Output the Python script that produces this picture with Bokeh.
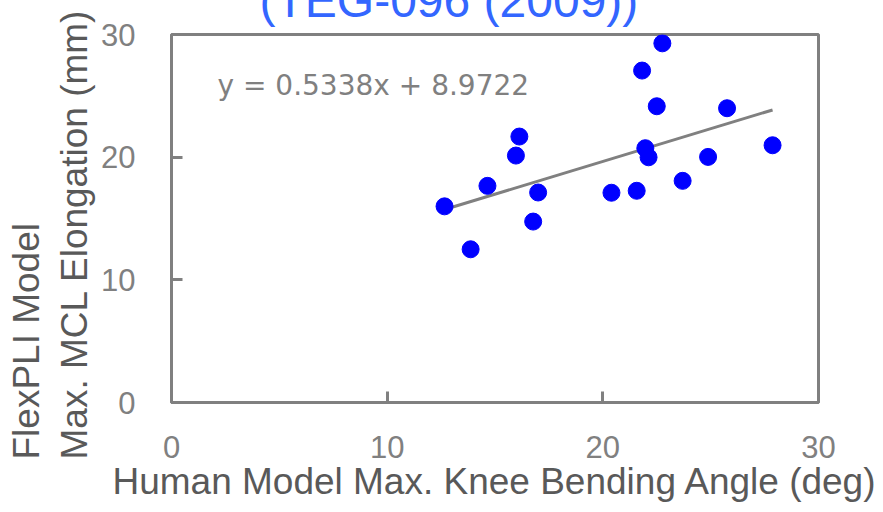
from bokeh.plotting import figure
from bokeh.models import Label, SingleIntervalTicker, Range1d, ColumnDataSource, Title
from bokeh.embed import file_html
from bokeh.resources import INLINE

# Data
knee_angle = [12.66, 13.87, 14.65, 15.97, 16.13, 16.77, 17.0, 20.4, 21.57,
              21.82, 21.97, 22.12, 22.5, 22.76, 23.7, 24.88, 25.76, 27.87]
mcl_elong = [15.99, 12.49, 17.66, 20.13, 21.68, 14.75, 17.12, 17.1, 17.26,
             27.06, 20.73, 19.99, 24.15, 29.28, 18.07, 20.02, 23.99, 20.97]
slope = 0.5338
intercept = 8.9722
equation_text = "y = 0.5338x + 8.9722"
title_text = "(TEG-096 (2009))"
x_label = "Human Model Max. Knee Bending Angle (deg)"
y_label_lines = ["FlexPLI Model", "Max. MCL Elongation (mm)"]

GRAY = "#808080"
DARK = "#595959"
FONT = "Liberation Sans"
SHIFT = 50  # page is scrolled up so the title is cut at the top, as in the reference

p = figure(width=883, height=512 + SHIFT, output_backend="svg", toolbar_location=None,
           x_range=Range1d(0, 30), y_range=Range1d(0, 30),
           min_border_left=171, min_border_right=65,
           min_border_top=34 + SHIFT, min_border_bottom=110)
p.styles = {"margin-top": f"-{SHIFT}px"}
p.grid.visible = False
p.outline_line_color = GRAY
p.outline_line_width = 3
p.background_fill_color = "white"
p.border_fill_color = "white"

for ax in (p.xaxis[0], p.yaxis[0]):
    ax.ticker = SingleIntervalTicker(interval=10, num_minor_ticks=0)
    ax.axis_line_color = GRAY
    ax.axis_line_width = 3
    ax.major_tick_line_color = GRAY
    ax.major_tick_line_width = 3
    ax.major_tick_in = 11
    ax.major_tick_out = 0
    ax.minor_tick_line_color = None
    ax.major_label_text_color = GRAY
    ax.major_label_text_font = FONT
    ax.major_label_text_font_size = "31px"

p.xaxis.major_label_standoff = 33
p.yaxis.major_label_standoff = 36
p.xaxis.axis_label = x_label
p.xaxis.axis_label_text_font = FONT
p.xaxis.axis_label_text_font_size = "37px"
p.xaxis.axis_label_text_font_style = "normal"
p.xaxis.axis_label_text_color = DARK
p.xaxis.axis_label_standoff = 0

# trend line
tx = [min(knee_angle), max(knee_angle)]
ty = [slope * v + intercept for v in tx]
p.line(tx, ty, line_color=GRAY, line_width=3)

src = ColumnDataSource(dict(x=knee_angle, y=mcl_elong))
p.scatter("x", "y", source=src, size=17, fill_color="#0000FF", line_color="#0000FF")

p.add_layout(Label(x=46, y=317, x_units="screen", y_units="screen", text=equation_text,
                   text_font="DejaVu Sans", text_font_size="28px", text_color=GRAY,
                   text_align="left", text_baseline="alphabetic"))

p.add_layout(Title(text=title_text, align="left", offset=88, standoff=15,
                   text_font=FONT, text_font_size="48px", text_font_style="normal",
                   text_color="#3366FF"), "above")

p.add_layout(Title(text=y_label_lines[1], align="left", offset=-57, standoff=8,
                   text_font=FONT, text_font_size="37px", text_font_style="normal",
                   text_color=DARK), "left")
p.add_layout(Title(text=y_label_lines[0], align="left", offset=-57, standoff=1,
                   text_font=FONT, text_font_size="37px", text_font_style="normal",
                   text_color=DARK), "left")

open("out.html", "w").write(file_html(p, INLINE))
